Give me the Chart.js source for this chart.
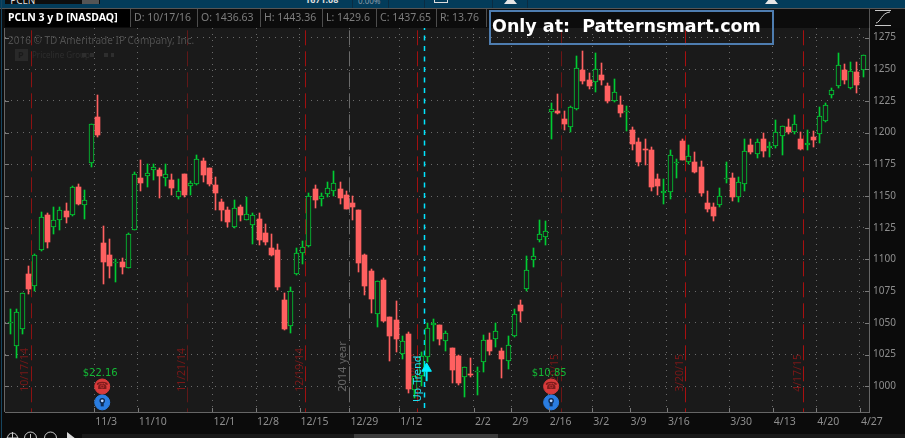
<!DOCTYPE html>
<html>
<head>
<meta charset="utf-8">
<title>PCLN 3 y D</title>
<script src="https://cdn.jsdelivr.net/npm/chart.js@4/dist/chart.umd.min.js"></script>
<style>
html,body{margin:0;padding:0;background:#0b0b0b;overflow:hidden;width:905px;height:438px}
#wrap{position:relative;width:905px;height:438px;overflow:hidden;font-family:"Noto Sans",sans-serif}
canvas{position:absolute;left:0;top:0}
.abs{position:absolute}
.cell{position:absolute;top:9px;height:18px;line-height:17px;font-size:10.5px;color:#7d7d7d;background:#0c0c0c;border-right:1px solid #4d4d4d;white-space:nowrap;box-sizing:border-box;padding-left:3px}
</style>
</head>
<body>
<div id="wrap">
  <canvas id="c" width="905" height="438"></canvas>
  <!-- top toolbar -->
  <div class="abs" style="left:0;top:0;width:905px;height:8px;background:#033c5a"></div>
  <div class="abs" style="left:5px;top:0;width:95px;height:4px;background:#0e0e0e;overflow:hidden;color:#ddd;font-size:10px;line-height:0">&nbsp;&nbsp;PCLN</div>
  <div class="abs" style="left:82px;top:0;width:17px;height:4px;background:#555"></div>
  <div class="abs" style="left:305px;top:0;width:42px;height:3px;overflow:hidden;color:#ddd;font-size:9px;font-weight:bold;line-height:0">1671.08</div>
  <div class="abs" style="left:358px;top:0;width:28px;height:5px;overflow:hidden;color:#8a9aa6;font-size:8px;line-height:2px">0.00%</div>
  <div class="abs" style="left:352px;top:0;width:1px;height:8px;background:#0a2c42"></div>
  <div class="abs" style="left:388px;top:0;width:1px;height:8px;background:#0a2c42"></div>
  <div class="abs" style="left:424px;top:0;width:1px;height:8px;background:#0a2c42"></div>
  <div class="abs" style="left:492px;top:0;width:1px;height:8px;background:#0a2c42"></div>
  <div class="abs" style="left:527px;top:0;width:1px;height:8px;background:#0a2c42"></div>
  <div class="abs" style="left:434px;top:0;width:14px;height:3px;border:1px solid #ddd;border-top:0;box-sizing:border-box"></div>
  <div class="abs" style="left:504px;top:0;width:13px;height:4px;background:#e6e6e6;clip-path:polygon(25% 0,75% 0,100% 100%,0 100%)"></div>
  <div class="abs" style="left:765px;top:0;width:13px;height:4px;background:#e6e6e6;clip-path:polygon(25% 0,75% 0,100% 100%,0 100%)"></div>
  <div class="abs" style="left:0;top:8px;width:905px;height:1px;background:#555"></div>
  <!-- header row -->
  <div class="abs" style="left:0;top:9px;width:905px;height:19px;background:#0c0c0c"></div>
  <div class="cell" style="left:5px;width:126px;background:#000;color:#fff;font-weight:bold;font-size:10.5px">PCLN 3 y D [NASDAQ]</div>
  <div class="cell" style="left:131px;width:67px">D: 10/17/16</div>
  <div class="cell" style="left:198px;width:63px">O: 1436.63</div>
  <div class="cell" style="left:261px;width:62px">H: 1443.36</div>
  <div class="cell" style="left:323px;width:54px">L: 1429.6</div>
  <div class="cell" style="left:377px;width:60px">C: 1437.65</div>
  <div class="cell" style="left:437px;width:50px">R: 13.76</div>
  <!-- promo box -->
  <div class="abs" style="left:489px;top:10px;width:285px;height:35px;border:2px solid #4e7db0;box-sizing:border-box"></div>
  <div class="abs" style="left:492px;top:13px;height:26px;line-height:26px;font-family:'DejaVu Sans',sans-serif;font-weight:bold;font-size:17.5px;color:#fff;white-space:pre">Only at:  Patternsmart.com</div>
  <!-- right icon -->
  <svg class="abs" style="left:869px;top:9px" width="36" height="19">
    <rect x="0" y="0" width="1" height="19" fill="#555"/>
    <g stroke="#c8c8c8" stroke-width="1" fill="none">
      <path d="M6 1.5H22M6 16.5H22"/>
      <path d="M7 14C12 13 12 4 21 3"/>
    </g>
  </svg>
  <!-- left stripe and bottom bar -->
  <div class="abs" style="left:1px;top:0;width:1px;height:438px;background:#17455f"></div>
  <svg class="abs" style="left:0;top:430px" width="905" height="8">
    <rect x="82" y="4" width="823" height="4" fill="#191919"/>
    <rect x="354" y="4" width="144" height="4" fill="#3c3c3c"/>
    <g stroke="#c8c8c8" stroke-width="1" fill="none">
      <circle cx="12.5" cy="8" r="5"/><path d="M12.5 2V14M6.5 8H18.5"/>
      <circle cx="30.5" cy="8" r="6"/><path d="M30.5 4V8"/>
      <circle cx="50.5" cy="8" r="6"/>
    </g>
    <path d="M67 2L76 9H67Z" fill="#d8d8d8"/>
  </svg>
</div>
<script>
// ---- data ----
const tickBars  = [13.5,20.5,32.5,39.5,46.5,54.5,62.5,74.5,80.5,86.5,93.5,99.5,105.5,115.5,122.5,129.5,136.5];
const tickDates = ['11/3','11/10','12/1','12/8','12/15','12/29','1/12','2/2','2/9','2/16','3/2','3/9','3/16','3/30','4/13','4/20','4/27'];
const priceTicks = [1000,1025,1050,1075,1100,1125,1150,1175,1200,1225,1250,1275];

const open = [1050.2,1031.4,1044.8,1088.7,1078.7,1107.1,1135.3,1125.3,1130.8,1138.4,1134.7,1157.1,1142.6,1175.9,1212.4,1112.9,1103.4,1097.2,1097.9,1092.9,
1122.9,1164.3,1165.6,1170.8,1170.5,1164.5,1162.7,1149.5,1167.4,1157.7,1159.8,1177.6,1172.1,1158.7,1145.3,1139,1125.6,1141.4,1131.4,1127.5,
1132,1120.9,1109.1,1107.5,1068.2,1047.2,1088.6,1104.8,1110.8,1155.8,1147.9,1151.8,1154.2,1155.8,1151,1144.7,1139.2,1103.7,1091.1,1056.9,
1084,1054.8,1052.4,1025.6,1041.4,996.7,1007.7,1023.3,1048,1048.5,1035.7,1030,1023.7,1007.4,1010,1011.5,1018.9,1036.8,1037,1027.6,
1020.3,1039.4,1063.8,1077,1099.5,1115.3,1117.7,1215.9,1217.2,1210.9,1204.1,1219,1249.5,1241.6,1240.3,1245.5,1236.9,1225.3,1221.9,1216.2,
1202.2,1192.8,1187.2,1186.5,1163.6,1152.1,1152.9,1176.5,1193.6,1176.8,1177,1173.1,1144.7,1141.6,1143.2,1163.4,1164.4,1149.5,1159.2,1190.4,
1182.8,1195.1,1187.5,1189.1,1197,1204.3,1200.1,1195.1,1189.9,1196.7,1198.8,1208.8,1229.5,1236.6,1249.2,1234.8,1247.6,1249.7];
const high = [1060.8,1060.8,1073.5,1095,1104.5,1137.6,1136.9,1141.6,1141.6,1144.7,1157.6,1159.7,1155,1206.6,1229.7,1126.6,1116.3,1100.3,1101.3,1120.8,
1169.2,1178.5,1175.3,1175.3,1172.1,1175.3,1167.4,1163.4,1167.4,1161.9,1182.4,1180,1172.1,1165,1147.7,1141.4,1146.9,1143,1149.3,1136.7,
1136.7,1128,1120.1,1112.3,1073.7,1078.4,1109.1,1114.8,1152.6,1158.9,1152.6,1161.3,1170,1161.3,1154.2,1150.3,1139.2,1104.5,1092.7,1082.9,
1085.6,1054.8,1067.4,1039.8,1043,1008.2,1027.4,1049.7,1053.2,1048.5,1043.4,1030,1024.5,1014.8,1022.1,1015,1040.2,1041.8,1049.7,1030,
1039.4,1060.7,1067.8,1102.4,1108.7,1130.8,1130,1223.5,1230.6,1217.2,1221.1,1260.5,1264.4,1247.1,1262.9,1255,1239.2,1242.4,1229,1221.1,
1204.6,1195.9,1195.1,1188.8,1167.6,1163.6,1186.5,1179.4,1195.1,1190.4,1184.9,1177.8,1154.2,1144.7,1156.6,1177,1168.4,1165.2,1195.1,1195.1,
1195.1,1199.9,1192.8,1210.1,1205.1,1210.9,1214,1200.6,1202.2,1201.4,1220.3,1223.5,1235.3,1262.9,1254.2,1255.8,1255.8,1261];
const low = [1041.4,1021.9,1041.6,1072.9,1074.8,1107,1109.2,1120.3,1123.4,1129,1134,1142.6,1132.1,1172.7,1196.8,1080.8,1085.6,1082.4,1088.7,1092.9,
1122.9,1154.3,1156.9,1162.7,1148.5,1157.9,1150.9,1147.7,1149.5,1150.9,1158.7,1161.1,1157.9,1139,1130.4,1125.6,1125.1,1130.4,1131.4,1112.3,
1111.6,1111.6,1102.8,1076,1044.5,1042.2,1087.8,1096.6,1110,1140.8,1142.4,1149.5,1150.3,1144,1140,1131.3,1090.3,1072.2,1058,1046.9,
1050.8,1020,1027.2,1021.7,994.8,990.6,1000,1019.4,1035.9,1032.7,1027.9,1002.4,1000.8,991.4,1007.4,993,1011.1,1025,1030.8,1006.4,
1013.4,1038.6,1050.4,1074.9,1093.8,1113.5,1111,1195.1,1214.8,1202.2,1200.7,1218,1238.5,1234.5,1232.2,1237.7,1223.5,1224.3,1212.5,1201.4,
1186.5,1173.9,1174.7,1154.2,1151,1143.9,1147.9,1164.4,1178.6,1175,1168.4,1150.3,1137.7,1130.6,1141.6,1160.5,1146.3,1145.5,1154.2,1183.3,
1180.2,1181,1181,1188,1182.5,1199.3,1199.1,1186.5,1186.5,1188.8,1192,1208,1227.4,1235,1238.5,1234.5,1231.4,1244];
const close = [1050.8,1058.2,1073.5,1076.9,1103.5,1133.4,1114,1131,1139,1133.7,1157.1,1144,1146.8,1206.6,1198.4,1097.6,1095,1097.8,1094.2,1120,
1167.4,1160.6,1168,1172.9,1165.8,1167.1,1156.4,1153.7,1150.9,1160,1178.9,1166.6,1159.5,1152.4,1139,1129.6,1140.4,1135.1,1135.6,1134.8,
1115.4,1113.8,1103.3,1078.4,1045.3,1075,1104.9,1109.8,1150,1147.1,1150,1156.6,1160.3,1148.7,1140,1141.6,1097.4,1079.3,1069,1082.9,
1051.6,1039.8,1037.4,1035.9,998,1008.2,1024,1045.7,1050,1037.4,1041.8,1012.6,1002.4,1014.8,1009,1012,1036.8,1027.6,1043.9,1021.3,
1032.9,1057.3,1059.1,1091.9,1103,1120.3,1122.6,1218.5,1215.6,1207,1220.1,1250.8,1240.8,1236.9,1250,1241.6,1225.1,1231.9,1215.6,1216.8,
1191.2,1177,1186.8,1157.3,1158.1,1153.9,1182.3,1176.9,1178.6,1181.5,1169.2,1152.6,1140,1134.5,1150,1163.9,1149.5,1161,1185.4,1184.9,
1192.5,1185.7,1189.4,1200.4,1205.1,1200.6,1206.7,1187.3,1191.7,1194.4,1213,1221.7,1233.5,1253.2,1241.6,1248.4,1237.7,1261];

const eventBars   = [3.4,28.5,47.5,54.5,65.5,66.5,88.5,108.5,127.5];
const eventLabels = ['10/17/14','11/21/14','12/19/14','2014 year','1/16/15','','2/20/15','3/20/15','4/17/15'];
const earningsBars = [14.8,86.9];
const earningsMoves = ['$22.16','$10.85'];
const phonePrice = 999.8, bulbPrice = 987.3;
const arrowBar = 66.9, arrowFoot = 1004, arrowTip = 1014;

// ---- styling ----
const plotBg = '#1a1a1a', up = '#00cc33', down = '#ff6060', gridCol = '#6a6a6a', axisCol = '#666666', txtCol = '#8e8e8e';
const eventColors = ['#8c1212','#601818','#a01010','#6a6a6a','#a01010','#00e5ff','#6e1515','#a81010','#a81010'];
const X_MIN = -0.816, X_MAX = 137.954, Y_MIN = 979.7, Y_MAX = 1282.5;

const bars = open.map((_, i) => i);
const isUp = i => close[i] >= open[i];
const datasets = [];

eventBars.forEach((b, k) => {
  const cyan = k === 5;
  datasets.push({
    type:'line', label:'event '+(eventLabels[k]||'signal'),
    data:[{x:b,y:Y_MAX},{x:b,y:Y_MIN}], borderColor:eventColors[k],
    borderWidth: cyan ? 1.5 : 1, borderDash: cyan ? [5,5.5] : [15,6], borderDashOffset: cyan ? 3 : 18.7,
    pointRadius:0, order:5, tension:0, snap:true
  });
});
datasets.push({type:'bar',label:'wick',data:bars.map(i=>({x:i,y:[low[i],high[i]]})),
  backgroundColor:c=>isUp(c.dataIndex)?up:down,borderWidth:0,barThickness:1,grouped:false,order:3});
datasets.push({type:'bar',label:'body',data:bars.map(i=>({x:i,y:[Math.min(open[i],close[i]),Math.max(open[i],close[i])]})),
  backgroundColor:c=>isUp(c.dataIndex)?plotBg:down,borderColor:c=>isUp(c.dataIndex)?up:down,
  borderWidth:c=>isUp(c.dataIndex)?1:0,borderSkipped:false,barThickness:5,grouped:false,order:2});
datasets.push({type:'line',label:'arrow stem',data:[{x:arrowBar,y:arrowFoot},{x:arrowBar,y:arrowTip}],borderColor:'#00f0ff',borderWidth:2,pointRadius:0,order:1});
datasets.push({type:'line',label:'arrow head',data:[{x:arrowBar,y:arrowTip}],showLine:false,pointStyle:'triangle',pointRadius:5.5,backgroundColor:'#00f0ff',borderColor:'#00f0ff',order:1});
datasets.push({type:'line',label:'phone',data:earningsBars.map(b=>({x:b,y:phonePrice})),showLine:false,pointStyle:'circle',pointRadius:7.5,backgroundColor:'#d93b3b',borderColor:'#d93b3b',order:1});
datasets.push({type:'line',label:'bulb',data:earningsBars.map(b=>({x:b,y:bulbPrice})),showLine:false,pointStyle:'circle',pointRadius:7.5,backgroundColor:'#2a7de1',borderColor:'#2a7de1',order:1});

const noPad = s => { s.paddingLeft = s.paddingRight = s.paddingTop = s.paddingBottom = 0; };

const frame = {
  id:'frame',
  beforeDraw(ch){
    const a = ch.chartArea, g = ch.ctx;
    g.save();
    g.fillStyle = plotBg; g.fillRect(a.left,a.top,a.right-a.left,a.bottom-a.top);
    g.fillStyle = axisCol; g.fillRect(a.left-1,a.top-1,1,a.bottom-a.top+1);
    g.fillRect(a.left,a.bottom,a.right-a.left+1,1);
    g.fillRect(a.right,a.top-1,1,a.bottom-a.top+1);
    g.restore();
  },
  beforeDatasetsDraw(ch){
    ch.data.datasets.forEach((d,k)=>{
      const m = ch.getDatasetMeta(k);
      if(d.type==='bar'){
        m.data.forEach(el=>{
          el.x = Math.floor(el.x)+0.5;
          el.y = Math.round(el.y); el.base = Math.round(el.base);
          if(el.y===el.base) el.base = el.y+1;
        });
      } else if(d.snap){
        m.data.forEach(el=>{ el.x = Math.floor(el.x)+0.5; });
      }
    });
    const g = ch.ctx, xs = ch.scales.x, ys = ch.scales.y;
    g.save();
    eventLabels.forEach((t,k)=>{
      if(!t) return;
      const year = k===3;
      g.save();
      g.translate(xs.getPixelForValue(eventBars[k])-3, ys.getPixelForValue(995.6));
      g.rotate(-Math.PI/2);
      g.font = (year?'11px':'10.5px')+' "Noto Sans"';
      g.fillStyle = year?'#666666':'#7a1818';
      g.textAlign='left'; g.textBaseline='alphabetic';
      g.fillText(t,0,0);
      g.restore();
    });
    g.restore();
  },
  afterDatasetsDraw(ch){
    const g = ch.ctx, xs = ch.scales.x, ys = ch.scales.y, a = ch.chartArea;
    g.save();
    // inward tick marks
    g.fillStyle = '#7a7a7a';
    xs.ticks.forEach(t=>{ const x=Math.round(xs.getPixelForValue(t.value)); g.fillRect(x,a.bottom-4,1,4); });
    ys.ticks.forEach(t=>{ const y=Math.round(ys.getPixelForValue(t.value)); g.fillRect(a.right-4,y,4,1); g.fillRect(a.left,y,4,1); });
    // watermark
    g.textBaseline='middle'; g.textAlign='left';
    g.font='10px "Noto Sans"'; g.fillStyle='#4e4e4e';
    g.fillText('2016 © TD Ameritrade IP Company, Inc.',8,41.5);
    g.fillStyle='#292929'; g.fillRect(15,49,13,12);
    g.fillStyle='#1a1a1a'; g.font='bold 9px "Noto Sans"'; g.fillText('P',18,55.5);
    g.fillStyle='#2e2e2e'; g.font='8px "Noto Sans"'; g.fillText('Priceline Group',32,55.5);
    g.fillRect(82,53,4,4); g.fillRect(90,53,4,4); g.fillRect(104,53,4,4); g.fillRect(111,53,3,4);
    // earnings annotations
    earningsBars.forEach((b,k)=>{
      const x = xs.getPixelForValue(b), yp = ys.getPixelForValue(phonePrice), yb = ys.getPixelForValue(bulbPrice);
      g.textAlign='center'; g.textBaseline='middle';
      g.font='10px "DejaVu Sans"'; g.fillStyle='#14b835';
      g.fillText(earningsMoves[k],x-2,yp-13.5);
      g.font='10px "DejaVu Sans"'; g.fillStyle='#7d1c1c';
      g.fillText('☎',x,yp);
      g.fillStyle='#0f2c55';
      g.beginPath(); g.arc(x,yb-1.5,2.8,0,Math.PI*2); g.fill();
      g.fillRect(x-1.5,yb,3,4);
      g.fillStyle='#bcd8ff'; g.beginPath(); g.arc(x,yb-1.5,1.4,0,Math.PI*2); g.fill();
    });
    // signal text
    g.save();
    g.translate(xs.getPixelForValue(65.5)+3, ys.getPixelForValue(987.5));
    g.rotate(-Math.PI/2);
    g.textAlign='left'; g.textBaseline='alphabetic';
    g.font='10.5px "DejaVu Sans"'; g.fillStyle='#23dff0';
    g.fillText('Up Trend',0,0);
    g.restore();
    g.restore();
  }
};

new Chart(document.getElementById('c'),{
  data:{datasets},
  plugins:[frame],
  options:{
    responsive:false, animation:false, devicePixelRatio:1,
    layout:{autoPadding:false,padding:{left:5,top:28,right:0,bottom:0}},
    plugins:{legend:{display:false},tooltip:{enabled:false}},
    scales:{
      x:{
        type:'linear',position:'bottom',bounds:'data',min:X_MIN,max:X_MAX,offset:false,
        afterBuildTicks(s){ s.ticks = tickBars.map(v=>({value:v})); },
        afterFit(s){ s.height = 26; noPad(s); },
        ticks:{autoSkip:false,maxRotation:0,minRotation:0,align:'start',padding:4,labelOffset:1,color:txtCol,
          font:{family:'"Noto Sans"',size:10.5},
          callback:v=>tickDates[tickBars.indexOf(v)]},
        grid:{color:gridCol,lineWidth:1,drawTicks:false,offset:false},
        border:{display:false,dash:[1,5]}
      },
      y:{
        type:'linear',position:'right',bounds:'data',min:Y_MIN,max:Y_MAX,
        afterBuildTicks(s){ s.ticks = priceTicks.map(v=>({value:v})); },
        afterFit(s){ s.width = 36; noPad(s); },
        ticks:{autoSkip:false,padding:4,color:txtCol,font:{family:'"Noto Sans"',size:10},callback:v=>String(v)},
        grid:{color:gridCol,lineWidth:1,drawTicks:false},
        border:{display:false,dash:[1,5]}
      }
    }
  }
});
</script>
</body>
</html>
